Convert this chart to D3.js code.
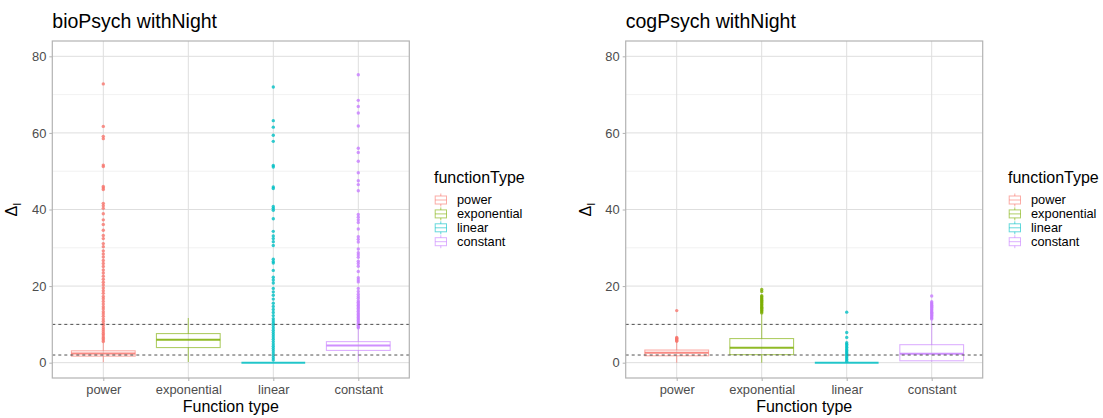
<!DOCTYPE html>
<html>
<head>
<meta charset="utf-8">
<script src="https://cdn.jsdelivr.net/npm/d3@7"></script>
<style>
  body { margin: 0; background: #fff; }
  text { font-family: "Liberation Sans", Arial, sans-serif; }
</style>
</head>
<body>
<svg id="chart" width="1103" height="418"></svg>
<script>
// Categories, labels and reference values
const categories = ["power", "exponential", "linear", "constant"];
const panelTitles = ["bioPsych withNight", "cogPsych withNight"];
const yTicks = [0, 20, 40, 60, 80];
const yMinorTicks = [10, 30, 50, 70];
const yLimits = [0, 80];
const refLines = [2, 10];
const xTitle = "Function type";
const legendTitle = "functionType";
const colors = ["#F8766D", "#7CAE00", "#00BFC4", "#C77CFF"];

// bioPsych box statistics (power, exponential, linear, constant)
const bioLower  = [0.1, 0.2, 0, 0.2];
const bioQ1     = [1.7, 3.95, 0, 3.2];
const bioMedian = [2.4, 6.0, 0, 4.5];
const bioQ3     = [3.1, 7.6, 0, 5.5];
const bioUpper  = [5.3, 11.7, 0, 8.9];

// bioPsych outliers
const bioPowerOut = [72.8, 61.7, 59.1, 58.5, 51.6, 51.2, 46.0, 45.6, 45.2, 41.6, 41.0, 40.3, 38.9, 37.3, 36.1,
  34.6, 33.2, 32.4, 31.1, 30.3, 29.2, 28.4, 27.6, 26.7, 25.9, 25.1, 24.2, 23.4, 22.6, 21.8, 21.0, 20.3,
  19.5, 18.8, 18.1, 17.3, 16.7, 16.0, 15.3, 14.6, 14.0, 13.3, 12.7, 12.1, 11.4, 10.8, 10.2, 9.7, 9.1,
  8.6, 8.1, 7.6, 7.2, 6.7, 6.3, 5.9, 5.5];
const bioExponentialOut = [];
const bioLinearOut = [72.0, 63.2, 61.5, 59.4, 57.8, 51.5, 51.1, 45.9, 45.5, 40.8, 40.3, 39.8, 37.6, 34.3, 33.1,
  32.4, 31.6, 30.6, 27.0, 26.4, 26.0, 24.1, 22.3, 21.6, 20.8, 19.4, 18.5, 17.6, 16.6, 15.5, 14.7, 13.9,
  13.1, 12.3, 11.5, 10.9, 10.3, 9.7, 9.1, 8.5, 7.9, 7.3, 6.7, 6.1, 5.5, 4.9, 4.3, 3.7, 3.1, 2.5, 1.9,
  1.3, 0.7];
const bioConstantOut = [75.2, 68.5, 66.9, 65.2, 61.8, 56.0, 54.9, 52.6, 49.6, 47.5, 46.5, 44.9, 38.7, 38.0,
  37.3, 36.6, 34.9, 32.9, 32.2, 31.5, 29.7, 28.7, 28.1, 27.5, 26.5, 25.9, 25.2, 23.8, 22.2, 21.6, 21.1,
  19.4, 18.6, 17.9, 17.3, 16.8, 16.2, 15.8, 15.4, 15.0, 14.6, 14.2, 13.8, 13.4, 13.0, 12.6, 12.2, 11.8,
  11.4, 11.0, 10.6, 10.2, 9.8, 9.4, 9.1];

// cogPsych box statistics
const cogLower  = [0, 0, 0, 0.3];
const cogQ1     = [1.8, 2.1, 0, 0.5];
const cogMedian = [2.6, 3.9, 0, 2.3];
const cogQ3     = [3.3, 6.3, 0, 4.7];
const cogUpper  = [5.4, 12.7, 0, 11.0];

// cogPsych outliers
const cogPowerOut = [13.6, 6.6, 6.4, 6.2, 6.0, 5.8, 5.6];
const cogExponentialOut = [19.1, 18.6, 17.5, 17.2, 16.9, 16.6, 16.3, 16.0, 15.7, 15.4, 15.1, 14.8, 14.5,
  14.2, 13.9, 13.6, 13.3, 13.0];
const cogLinearOut = [13.2, 7.9, 6.6, 5.2, 4.8, 4.4, 4.0, 3.6, 3.2, 2.8, 2.4, 2.0, 1.6, 1.2, 0.8, 0.4];
const cogConstantOut = [17.4, 15.9, 15.6, 15.3, 15.0, 14.7, 14.4, 14.1, 13.8, 13.5, 13.2, 12.9, 12.6,
  12.3, 12.0, 11.7, 11.4];

function buildBoxes(lower, q1, median, q3, upper, outliers) {
  return categories.map((c, i) => ({
    cat: c, color: colors[i],
    lower: lower[i], q1: q1[i], median: median[i], q3: q3[i], upper: upper[i],
    outliers: outliers[i]
  }));
}

const panels = [
  {
    title: panelTitles[0], left: 52.3, right: 409.3, yTitleX: 17, legendX: 434,
    boxes: buildBoxes(bioLower, bioQ1, bioMedian, bioQ3, bioUpper,
      [bioPowerOut, bioExponentialOut, bioLinearOut, bioConstantOut])
  },
  {
    title: panelTitles[1], left: 625.7, right: 982.7, yTitleX: 591, legendX: 1008,
    boxes: buildBoxes(cogLower, cogQ1, cogMedian, cogQ3, cogUpper,
      [cogPowerOut, cogExponentialOut, cogLinearOut, cogConstantOut])
  }
];

const svg = d3.select("#chart");
const plotTop = 41, plotBottom = 378;
const span = yLimits[1] - yLimits[0];
const y = d3.scaleLinear()
  .domain([yLimits[0] - 0.05 * span, yLimits[1] + 0.05 * span])
  .range([plotBottom, plotTop]);

const gridCol = "#dedede", borderCol = "#b3b3b3", tickTextCol = "#4d4d4d";

panels.forEach(p => {
  const g = svg.append("g");
  const x = d3.scalePoint().domain(categories).range([p.left, p.right]).padding(0.6);
  const bw = x.step() * 0.75;

  // grid
  g.selectAll(".minor").data(yMinorTicks).join("line")
    .attr("x1", p.left).attr("x2", p.right)
    .attr("y1", d => y(d)).attr("y2", d => y(d))
    .attr("stroke", "#eeeeee").attr("stroke-width", 0.8);
  g.selectAll(".majorY").data(yTicks).join("line")
    .attr("x1", p.left).attr("x2", p.right)
    .attr("y1", d => y(d)).attr("y2", d => y(d))
    .attr("stroke", gridCol).attr("stroke-width", 1);
  g.selectAll(".majorX").data(categories).join("line")
    .attr("x1", d => x(d)).attr("x2", d => x(d))
    .attr("y1", plotTop).attr("y2", plotBottom)
    .attr("stroke", gridCol).attr("stroke-width", 1);

  // boxes
  p.boxes.forEach(b => {
    const cx = x(b.cat);
    const bg = g.append("g");
    // whiskers
    bg.append("line").attr("x1", cx).attr("x2", cx)
      .attr("y1", y(b.q3)).attr("y2", y(b.upper))
      .attr("stroke", b.color).attr("stroke-opacity", 0.6).attr("stroke-width", 1.1);
    bg.append("line").attr("x1", cx).attr("x2", cx)
      .attr("y1", y(b.q1)).attr("y2", y(b.lower))
      .attr("stroke", b.color).attr("stroke-opacity", 0.6).attr("stroke-width", 1.1);
    // box
    bg.append("rect")
      .attr("x", cx - bw / 2).attr("width", bw)
      .attr("y", y(b.q3)).attr("height", Math.max(0, y(b.q1) - y(b.q3)))
      .attr("fill", "none").attr("stroke", b.color)
      .attr("stroke-opacity", 0.6).attr("stroke-width", 1.1);
    // median
    bg.append("line")
      .attr("x1", cx - bw / 2).attr("x2", cx + bw / 2)
      .attr("y1", y(b.median)).attr("y2", y(b.median))
      .attr("stroke", b.color).attr("stroke-opacity", 0.85).attr("stroke-width", 2);
    // outliers
    bg.selectAll("circle").data(b.outliers).join("circle")
      .attr("cx", cx).attr("cy", d => y(d)).attr("r", 1.7)
      .attr("fill", b.color).attr("fill-opacity", 0.8);
  });

  // reference lines
  g.selectAll(".ref").data(refLines).join("line")
    .attr("x1", p.left).attr("x2", p.right)
    .attr("y1", d => y(d)).attr("y2", d => y(d))
    .attr("stroke", "#333").attr("stroke-opacity", 0.85)
    .attr("stroke-width", 1).attr("stroke-dasharray", "3,3");

  // panel border
  g.append("rect").attr("x", p.left).attr("y", plotTop)
    .attr("width", p.right - p.left).attr("height", plotBottom - plotTop)
    .attr("fill", "none").attr("stroke", borderCol).attr("stroke-width", 1.2);

  // axes
  const ya = g.append("g").attr("transform", `translate(${p.left},0)`)
    .call(d3.axisLeft(y).tickValues(yTicks).tickSize(3).tickPadding(3));
  const xa = g.append("g").attr("transform", `translate(0,${plotBottom})`)
    .call(d3.axisBottom(x).tickSize(3).tickPadding(4));
  [ya, xa].forEach(a => {
    a.select(".domain").remove();
    a.selectAll(".tick line").attr("stroke", borderCol).attr("stroke-width", 1);
    a.selectAll(".tick text").attr("fill", tickTextCol)
      .style("font-size", "12.9px").style("font-family", '"Liberation Sans", Arial, sans-serif');
  });

  // titles
  g.append("text").attr("x", p.left).attr("y", 28)
    .style("font-size", "19.5px").attr("fill", "#000").text(p.title);
  g.append("text").attr("x", (p.left + p.right) / 2).attr("y", 412)
    .attr("text-anchor", "middle").style("font-size", "16px").attr("fill", "#000").text(xTitle);
  const yt = g.append("text")
    .attr("transform", `translate(${p.yTitleX},${(plotTop + plotBottom) / 2}) rotate(-90)`)
    .attr("text-anchor", "middle").style("font-size", "16px").attr("fill", "#000");
  yt.append("tspan").text("Δ");
  yt.append("tspan").attr("dy", 4).style("font-size", "11px").text("I");

  // legend
  const lg = g.append("g").attr("transform", `translate(${p.legendX},0)`);
  lg.append("text").attr("x", 0).attr("y", 183).style("font-size", "16px").attr("fill", "#000").text(legendTitle);
  categories.forEach((c, i) => {
    const cy = 200 + i * 13.9;
    const k = lg.append("g");
    k.append("line").attr("x1", 6.8).attr("x2", 6.8).attr("y1", cy - 6.5).attr("y2", cy + 6.5)
      .attr("stroke", colors[i]).attr("stroke-opacity", 0.6);
    k.append("rect").attr("x", 1.2).attr("y", cy - 4).attr("width", 11.3).attr("height", 8)
      .attr("fill", "#fff").attr("stroke", colors[i]).attr("stroke-opacity", 0.6);
    k.append("line").attr("x1", 1.2).attr("x2", 12.5).attr("y1", cy).attr("y2", cy)
      .attr("stroke", colors[i]).attr("stroke-opacity", 0.6);
    lg.append("text").attr("x", 23).attr("y", cy + 4.4).style("font-size", "12.8px")
      .attr("fill", "#000").text(c);
  });
});
</script>
</body>
</html>
